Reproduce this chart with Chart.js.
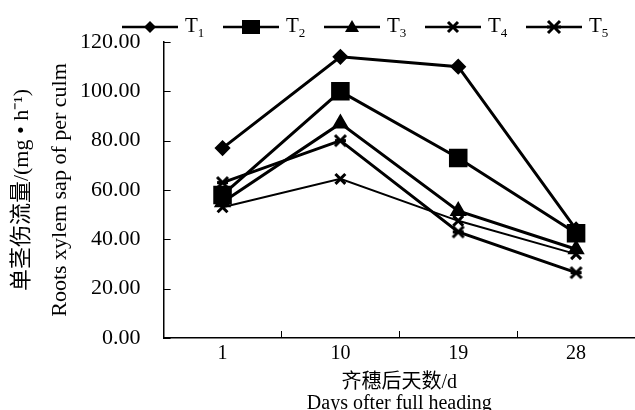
<!DOCTYPE html>
<html>
<head>
<meta charset="utf-8">
<script src="https://cdn.jsdelivr.net/npm/chart.js@4"></script>
<style>
html, body { margin: 0; padding: 0; background: #fff; overflow: hidden; }
#wrap { position: relative; width: 635px; height: 414px; }
#legend { position: absolute; left: 122px; top: 13px; display: flex; font-family: 'Liberation Serif', serif; font-size: 21px; color: #000; }
.item { display: flex; align-items: center; width: 101px; }
.item svg { margin-right: 7px; }
.item sub { font-size: 13px; vertical-align: -5px; }
</style>
</head>
<body>
<div id="wrap">
  <canvas id="chart" width="635" height="414"></canvas>
  <div id="legend"></div>
</div>
<script>
// days after full heading
const days = ['1', '10', '19', '28'];
const seriesNames = ['1', '2', '3', '4', '5'];
const t1 = [77, 114, 110, 44];
const t2 = [58, 100, 73, 42.5];
const t3 = [55, 87, 51.5, 36];
const t4 = [53, 64.5, 47.5, 34];
const t5 = [63, 80, 43, 26.5];
const yTicks = [0, 20, 40, 60, 80, 100, 120];

const serif = "'Liberation Serif', 'Noto Sans CJK SC', serif";

function asterisk(size) {
    const c = document.createElement('canvas');
    c.width = c.height = size;
    const g = c.getContext('2d');
    g.strokeStyle = '#000';
    g.lineWidth = 3;
    const m = 2;
    g.beginPath();
    g.moveTo(m, m); g.lineTo(size - m, size - m);
    g.moveTo(size - m, m); g.lineTo(m, size - m);
    g.moveTo(m, size / 2); g.lineTo(size - m, size / 2);
    g.stroke();
    return c;
}

const styles = [
    { pointStyle: 'rectRot', pointRadius: 6, borderWidth: 3 },
    { pointStyle: 'rect', pointRadius: 11, borderWidth: 3 },
    { pointStyle: 'triangle', pointRadius: 7, borderWidth: 3 },
    { pointStyle: 'crossRot', pointRadius: 7, borderWidth: 2 },
    { pointStyle: asterisk(15), pointRadius: 7, borderWidth: 3 }
];

const allData = [t1, t2, t3, t4, t5];
const datasets = allData.map((d, i) => ({
    label: 'T' + seriesNames[i],
    data: d,
    borderColor: '#000',
    backgroundColor: '#000',
    pointBorderWidth: 3,
    tension: 0,
    ...styles[i]
}));

// ticks drawn inward, like the original
const inwardTicks = {
    id: 'inwardTicks',
    afterDraw(chart) {
        const { ctx, scales: { x, y } } = chart;
        ctx.save();
        ctx.strokeStyle = '#000';
        ctx.lineWidth = 1;
        ctx.beginPath();
        y.ticks.forEach((t, i) => {
            const py = Math.round(y.getPixelForTick(i)) + 0.5;
            ctx.moveTo(x.left, py);
            ctx.lineTo(x.left + 7, py);
        });
        for (let i = 0; i < days.length - 1; i++) {
            const px = Math.round((x.getPixelForTick(i) + x.getPixelForTick(i + 1)) / 2) + 0.5;
            ctx.moveTo(px, y.bottom);
            ctx.lineTo(px, y.bottom - 7);
        }
        ctx.stroke();
        ctx.restore();
    }
};

new Chart(document.getElementById('chart'), {
    type: 'line',
    data: { labels: days, datasets: datasets },
    options: {
        responsive: false,
        animation: false,
        layout: { autoPadding: false, padding: { left: 3, top: 42, right: 0, bottom: 0 } },
        plugins: { legend: { display: false }, tooltip: { enabled: false } },
        scales: {
            x: {
                offset: true,
                grid: { display: false, drawTicks: false },
                border: { color: '#000', width: 1.5 },
                ticks: { color: '#000', font: { family: serif, size: 20 }, padding: 4 },
                title: {
                    display: true,
                    text: ['齐穗后天数/d', 'Days ofter full heading'],
                    color: '#000',
                    font: { family: serif, size: 20, lineHeight: 1.05 },
                    padding: { top: 2, bottom: 0 }
                }
            },
            y: {
                min: 0,
                max: 120,
                afterBuildTicks: (s) => { s.ticks = yTicks.map(v => ({ value: v })); },
                grid: { display: false, drawTicks: false },
                border: { color: '#000', width: 1.5 },
                ticks: { color: '#000', font: { family: serif, size: 22 }, padding: 23, callback: v => Number(v).toFixed(2) },
                title: {
                    display: true,
                    text: ['单茎伤流量/(mg • h⁻¹)', 'Roots xylem sap of per culm'],
                    color: '#000',
                    font: { family: serif, size: 22, lineHeight: 1.73 },
                    padding: { top: 0, bottom: -22 }
                }
            }
        }
    },
    plugins: [inwardTicks]
});

// legend: line with marker, then T with subscript
function markerSvg(i) {
    let m = '';
    if (i === 0) m = '<polygon points="28,4 34,10 28,16 22,10" fill="#000"/>';
    if (i === 1) m = '<rect x="19" y="3" width="18" height="14" fill="#000"/>';
    if (i === 2) m = '<polygon points="28,3 35,15 21,15" fill="#000"/>';
    if (i === 3) m = '<path d="M23,5 L33,15 M33,5 L23,15" stroke="#000" stroke-width="3"/>';
    if (i === 4) m = '<path d="M22,4 L34,16 M34,4 L22,16 M21,10 L35,10" stroke="#000" stroke-width="3"/>';
    return '<svg width="56" height="20"><line x1="0" y1="10" x2="56" y2="10" stroke="#000" stroke-width="2.5"/>' + m + '</svg>';
}
document.getElementById('legend').innerHTML = seriesNames.map((n, i) =>
    '<div class="item">' + markerSvg(i) + '<span>T<sub>' + n + '</sub></span></div>'
).join('');
</script>
</body>
</html>
